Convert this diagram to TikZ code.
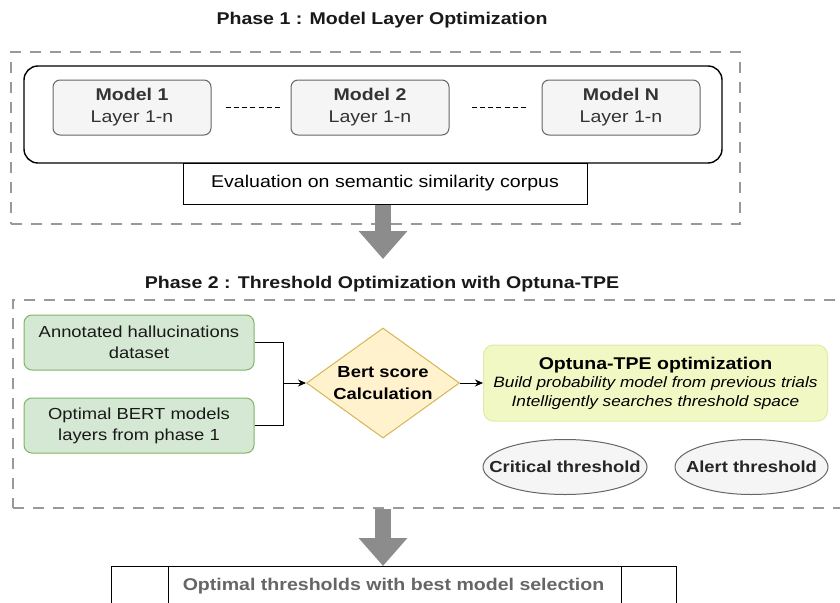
\documentclass[tikz,border=0pt]{standalone}
\usepackage{fontspec}
\setmainfont{Liberation Sans}[FakeStretch=1.15]
\usepackage{xcolor}
\usetikzlibrary{arrows.meta,positioning,shapes.geometric}

\definecolor{modelfill}{HTML}{F5F5F5}
\definecolor{modeldraw}{HTML}{666666}
\definecolor{datafill}{HTML}{D5E8D4}
\definecolor{datadraw}{HTML}{82B366}
\definecolor{bertfill}{HTML}{FFF2CC}
\definecolor{bertdraw}{HTML}{D6B656}
\definecolor{optfill}{HTML}{F2F8C4}
\definecolor{optdraw}{HTML}{E2EBA6}
\definecolor{dashgray}{HTML}{999999}
\definecolor{arrowgray}{HTML}{8C8C8C}

\begin{document}
\begin{tikzpicture}[
      x = 1pt, y = -1pt,
      node distance = 27pt,
      phasebox/.style = {draw=dashgray, line width=1.3pt, dash pattern=on 11pt off 9pt,
                         minimum width=#1},
      phasetitle/.style = {anchor=base, font=\fontsize{17}{20}\selectfont\bfseries,
                           text=black!90},
      groupbox/.style = {draw, line width=1.4pt, rounded corners=14pt, fill=white,
                         minimum width=698pt, minimum height=97pt},
      modelbox/.style = {draw=modeldraw, line width=1pt, rounded corners=7pt, fill=modelfill,
                         minimum width=158pt, minimum height=55pt, align=center,
                         text=black!80, font=\fontsize{17}{22}\selectfont},
      evalbox/.style = {draw, line width=1pt, fill=white, minimum width=404pt,
                        minimum height=41pt, font=\fontsize{17}{20}\selectfont},
      dots/.style = {line width=1.3pt, dash pattern=on 5pt off 3.3pt},
      databox/.style = {draw=datadraw, line width=1pt, rounded corners=8pt, fill=datafill,
                        minimum width=230pt, minimum height=55pt, align=center,
                        text=black!90, font=\fontsize{16}{21}\selectfont},
      decision/.style = {diamond, draw=bertdraw, line width=1pt, fill=bertfill, aspect=1.39,
                         inner sep=0pt, minimum width=153pt, minimum height=110pt,
                         align=center, font=\fontsize{16}{22}\selectfont\bfseries},
      optbox/.style = {draw=optdraw, line width=1pt, rounded corners=10pt, fill=optfill,
                       minimum width=344pt, minimum height=76pt, align=center,
                       font=\fontsize{15}{18.5}\selectfont},
      thrnode/.style = {ellipse, draw=modeldraw, line width=1pt, fill=modelfill,
                        minimum height=55pt, inner sep=0pt,
                        font=\fontsize{16}{20}\selectfont\bfseries, text=black!85},
      resultbox/.style = {draw, line width=1pt, minimum width=565pt, minimum height=40pt,
                          text=modeldraw, font=\fontsize{17}{20}\selectfont\bfseries},
      arrow/.style = {-{Stealth[length=8pt, width=7pt]}, line width=1pt},
      bigarrow/.style = {draw=arrowgray, line width=16pt,
                         -{Triangle[width=47pt, length=28pt]}}
    ]
    \useasboundingbox (0,0) rectangle (840,602);
    \fill[white] (0,0) rectangle (840,602);

    \node[phasebox=729pt, minimum height=172pt] (p1) at (375.5,138) {};
    \node[phasebox=837pt, minimum height=208pt] (p2) at (431.5,404) {};
    \node[phasetitle] (t1) at (382,25)  {Phase 1 : Model Layer Optimization};
    \node[phasetitle] (t2) at (382,288) {Phase 2 : Threshold Optimization with Optuna-TPE};

    \node[groupbox] (grp) at (373,114.5) {};
    \node[modelbox] (m1) at (132,107.5)     {\textbf{Model 1}\\Layer 1-n};
    \node[modelbox, right=79pt of m1] (m2) {\textbf{Model 2}\\Layer 1-n};
    \node[modelbox, right=92pt of m2] (mN) {\textbf{Model N}\\Layer 1-n};
    \node[evalbox] (eval) at (385,183.5) {Evaluation on semantic similarity corpus};

    \draw[dots, shorten <=14pt, shorten >=7pt]  (m1) -- (m2);
    \draw[dots, shorten <=22pt, shorten >=13pt] (m2) -- (mN);

    \coordinate (a1) at (383,259);
    \draw[bigarrow] (eval.south -| a1) -- (a1);

    \node[databox] (ds) at (139,342.5) {Annotated hallucinations\\dataset};
    \node[databox, below=of ds] (bm)  {Optimal BERT models\\layers from phase 1};
    \node[decision] (bert) at (383,383) {Bert score\\Calculation};
    \node[optbox, right=23pt of bert] (opt)
      {{\fontsize{17}{20}\selectfont\bfseries Optuna-TPE optimization}\\
       {\itshape Build probability model from previous trials}\\
       {\itshape Intelligently searches threshold space}};
    \node[thrnode, minimum width=164pt] (crit) at (565,467) {\makebox[0pt]{Critical threshold}};
    \node[thrnode, minimum width=153pt, right=27pt of crit] (alert) {\makebox[0pt]{Alert threshold}};

    \coordinate (join) at (283,383);
    \draw[line width=1pt] (ds.east) -| (join);
    \draw[line width=1pt] (bm.east) -| (join);
    \draw[arrow] (join) -- (bert);
    \draw[arrow] (bert) -- (opt);

    \node[resultbox] (res) at (393.5,586) {Optimal thresholds with best model selection};
    \draw[line width=1pt] ([xshift=57.5pt]res.north west) -- ([xshift=57.5pt]res.south west);
    \draw[line width=1pt] ([xshift=-55.5pt]res.north east) -- ([xshift=-55.5pt]res.south east);

    \coordinate (a2) at (383,566);
    \draw[bigarrow] (p2.south -| a2) -- (a2);
  \end{tikzpicture}
\end{document}
